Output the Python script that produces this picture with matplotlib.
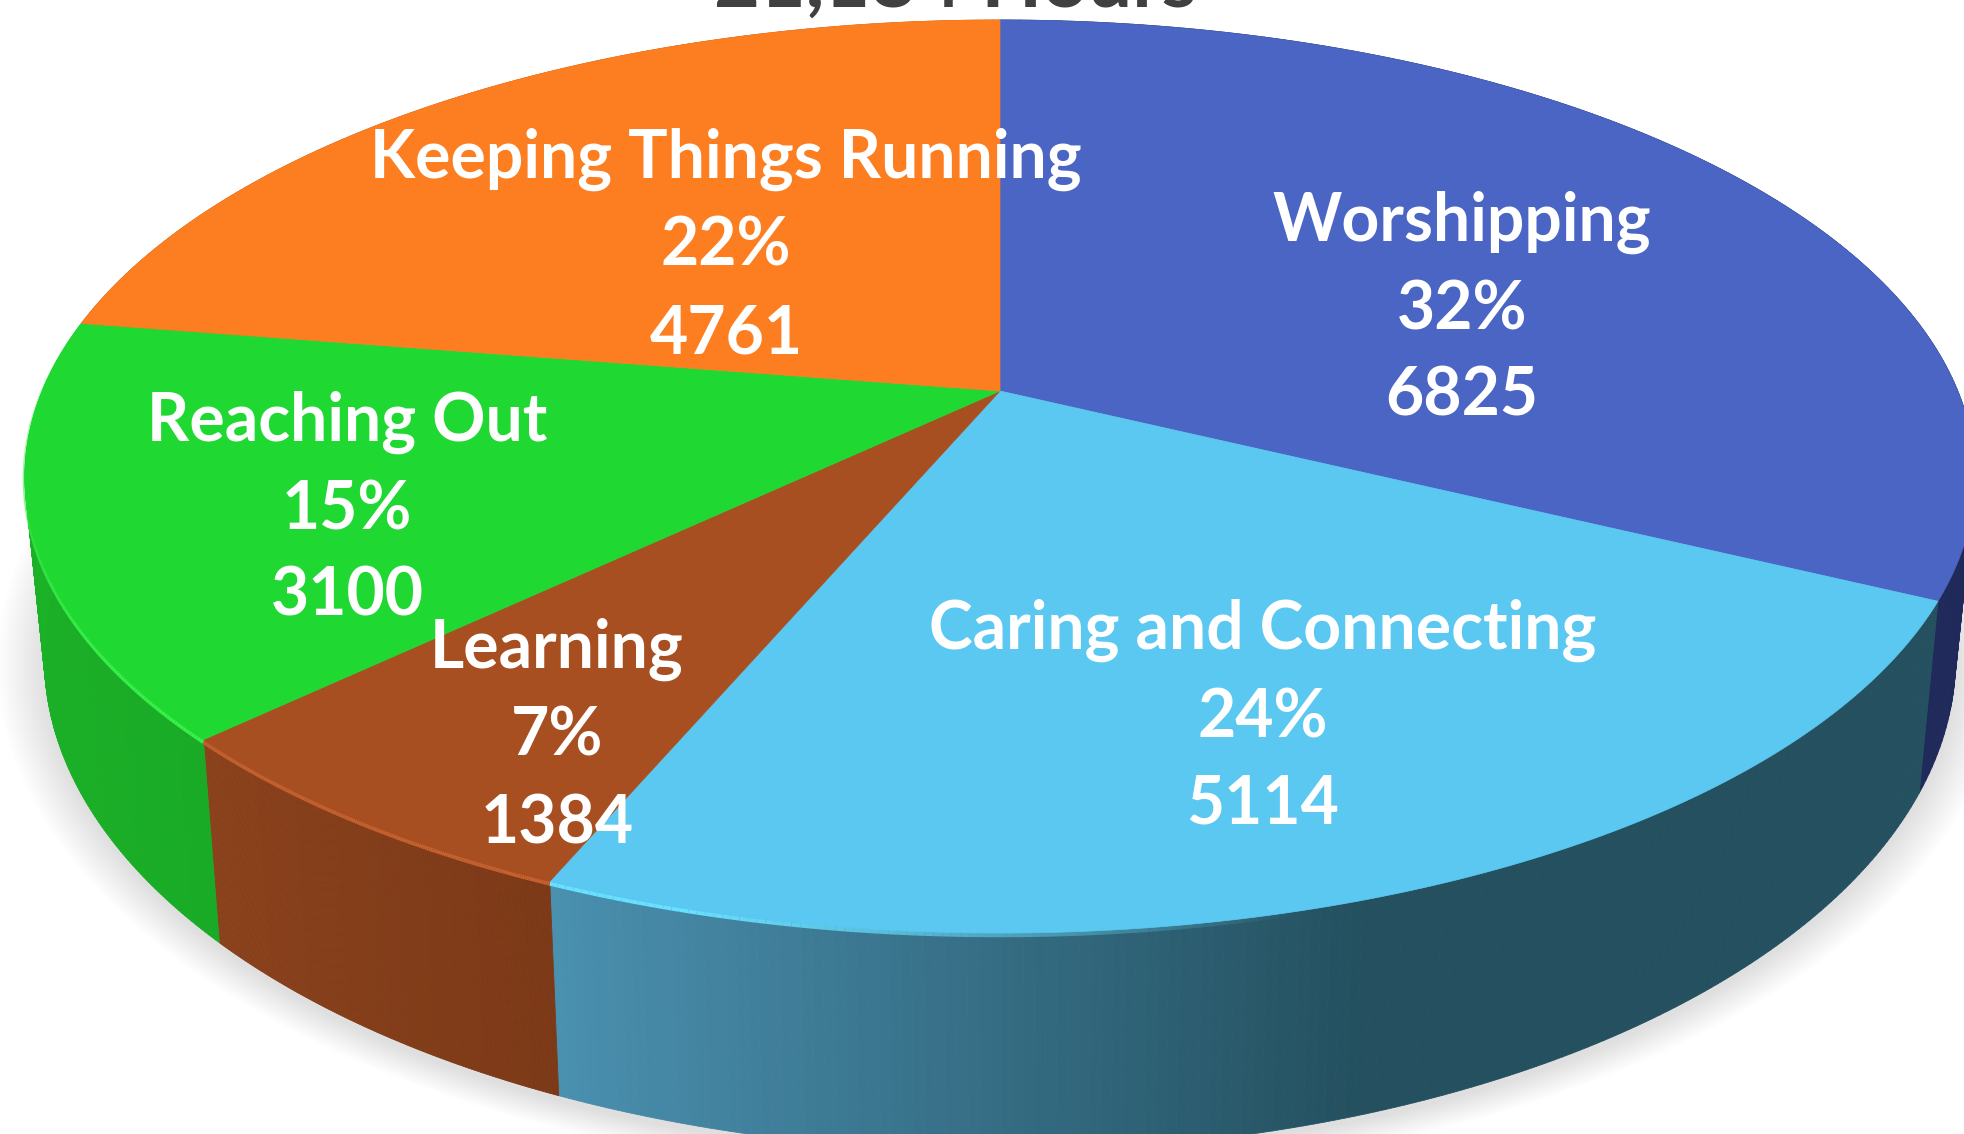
import numpy as np
import matplotlib
matplotlib.use("Agg")
import matplotlib.pyplot as plt
from matplotlib.collections import PolyCollection, LineCollection
from matplotlib.colors import to_rgb

title = "21,184 Hours"
categories = ["Worshipping", "Caring and Connecting", "Learning", "Reaching Out", "Keeping Things Running"]
hours = [6825, 5114, 1384, 3100, 4761]
percents = ["32%", "24%", "7%", "15%", "22%"]

top_colors = ["#4a65c4", "#5ac8f0", "#a84f22", "#1fd832", "#fd7e21"]
side_left = ["#1f2a5a", "#4a90b0", "#8a411b", "#1cb527", "#b85c18"]
side_right = ["#1f2a5a", "#24505f", "#7c3917", "#19ab26", "#b85c18"]
rim_colors = ["#4a65c4", "#68e0ff", "#c8622f", "#3af04a", "#fd7e21"]
label_pos = [(1462, 310), (1263, 718), (557, 737), (347, 510), (726, 247)]

# tilted disc, pixels of the original picture
CX, CY = 1000, 391
A, B, K = 957.8, 440.5, 0.1873


def project(theta):
    # theta in degrees, clockwise from 12 o'clock
    t = np.radians(theta)
    w = 1 + K * np.cos(t)
    return CX + A * np.sin(t) / w, CY - B * np.cos(t) / w


def lower(x, y):
    # same edge on the underside of the pie
    return CX + 0.98 * (x - CX), 566 + 1.08 * (y - CY)


fig = plt.figure(figsize=(19.64, 11.34), dpi=100)
ax = fig.add_axes([0, 0, 1, 1])
ax.set_xlim(0, 1964)
ax.set_ylim(1134, 0)
ax.axis("off")

# soft shadow under the pie
ring = np.linspace(0, 360, 361)
bx, by = lower(*project(ring))
mx, my = (bx.min() + bx.max()) / 2, (by.min() + by.max()) / 2
for i in range(32):
    s = 1 + i * 0.0016
    ax.fill(mx + s * (bx - mx), my + s * (by - my) + 6, color="black", alpha=0.0055, lw=0, zorder=1)

edges = np.cumsum([0] + hours) / sum(hours) * 360

# side walls first, the top hides whatever is at the back
for i in range(len(hours)):
    th = np.linspace(edges[i], edges[i + 1], 160)
    x, y = project(th)
    xb, yb = lower(x, y)
    quads = []
    cols = []
    c0, c1 = np.array(to_rgb(side_left[i])), np.array(to_rgb(side_right[i]))
    for j in range(len(th) - 1):
        quads.append([(x[j], y[j]), (x[j + 1], y[j + 1]), (xb[j + 1], yb[j + 1]), (xb[j], yb[j])])
        # colour runs left to right on screen, dark from x=1370 onwards
        f = np.clip((x[j] - 554) / (1370 - 554), 0, 1) if i == 1 else (j / (len(th) - 2))
        if i == 2 or i == 3:
            f = 1 - f
        cols.append(c0 + (c1 - c0) * f)
    ax.add_collection(PolyCollection(quads, facecolors=cols, edgecolors=cols, linewidths=0.6, zorder=2))

# thin bright rim along the front edge
for i in range(len(hours)):
    th = np.linspace(edges[i], edges[i + 1], 200)
    x, y = project(th)
    pts = np.column_stack([x, y + 2])
    segs = np.stack([pts[:-1], pts[1:]], axis=1)
    alpha = np.interp(th[:-1], [165, 195, 240, 285], [0, 1, 1, 0])
    cols = [to_rgb(rim_colors[i]) + (a,) for a in alpha]
    ax.add_collection(LineCollection(segs, colors=cols, linewidths=3.2, zorder=2.5))

# top of the pie
for i in range(len(hours)):
    th = np.linspace(edges[i], edges[i + 1], 200)
    x, y = project(th)
    ax.fill(np.r_[CX, x], np.r_[CY, y], color=top_colors[i], lw=0.5, zorder=3)

ax.text(955, 7, title, ha="center", va="baseline", fontsize=57, fontweight="bold",
        family="Lato", color="#404040", zorder=6)

for name, pct, h, (lx, ly) in zip(categories, percents, hours, label_pos):
    for txt, dy in zip([name, pct, str(h)], [-88, 0, 87]):
        ax.text(lx, ly + dy, txt, ha="center", va="center", fontsize=47.5, fontweight="bold",
                family="Lato", color="white", zorder=5)

fig.savefig("out.png", dpi=100)
